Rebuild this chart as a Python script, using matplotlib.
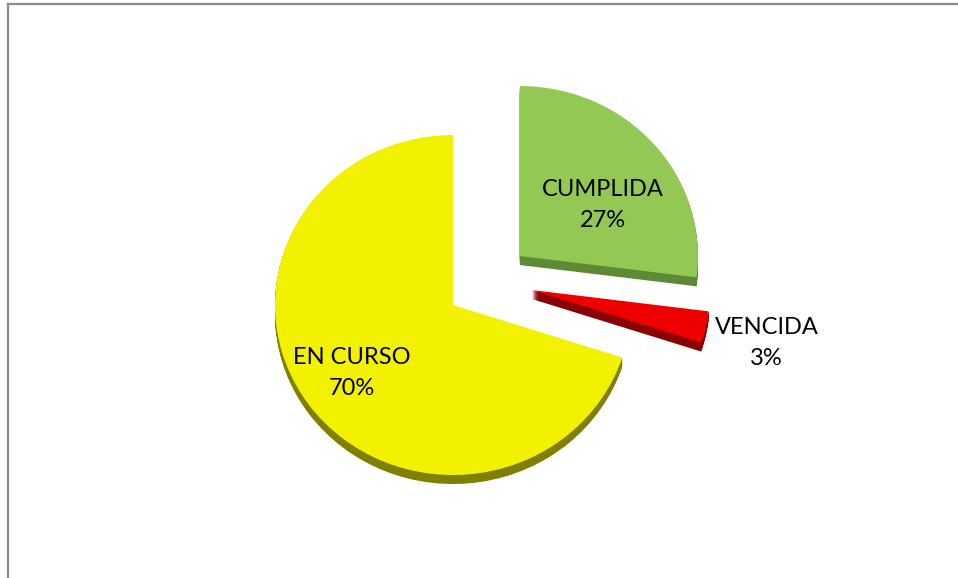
import numpy as np
import matplotlib.pyplot as plt
from matplotlib.patches import Wedge
from matplotlib.lines import Line2D

labels = ["CUMPLIDA", "VENCIDA", "EN CURSO"]
values = [27, 3, 70]

top_colors = ["#92C853", "#EE0000", "#F2F200"]
side_colors = ["#5F8A35", "#8B0000", "#7F7F00"]
# offset of each slice's vertex (pie radius units) and label placement
offsets = [(0.376, 0.288), (0.444, 0.088), (0.0, 0.0)]
label_dist = [0.56, 1.33, 0.68]
label_shift = [(0.045, -0.07), (0.02, -0.02), (-0.02, 0.0)]

fig = plt.figure(figsize=(9.58, 5.78), dpi=100)
ax = fig.add_axes([0, 0, 1, 1])

# pie radius 178 px wide, 170 px tall, centre at (453, 305) px
rx, ry = 178.0, 170.0
cx, cy = 453.0, 578.0 - 305.0
ax.set_xlim(-cx / rx, (958 - cx) / rx)
ax.set_ylim(-cy / ry, (578 - cy) / ry)
ax.set_aspect("auto")
ax.axis("off")

thick = 9.0 / ry
total = float(sum(values))
start = 90.0
angles = []
for v in values:
    end = start - 360.0 * v / total
    angles.append((end, start))
    start = end

draw_order = [2, 0, 1]
for i in draw_order:
    a1, a2 = angles[i]
    ox, oy = offsets[i]
    for k in np.linspace(thick, 0, 12)[:-1]:
        ax.add_patch(Wedge((ox, oy - k), 1.0, a1, a2,
                           facecolor=side_colors[i], edgecolor="none"))
    ax.add_patch(Wedge((ox, oy), 1.0, a1, a2,
                       facecolor=top_colors[i], edgecolor="none"))

for i in range(len(values)):
    a1, a2 = angles[i]
    mid = np.deg2rad((a1 + a2) / 2)
    ox, oy = offsets[i]
    x = ox + label_dist[i] * np.cos(mid) + label_shift[i][0]
    y = oy + label_dist[i] * np.sin(mid) + label_shift[i][1]
    ax.text(x, y, f"{labels[i]}\n{values[i]}%", ha="center", va="center",
            fontsize=17, family="Lato", color="black", linespacing=1.6)

# chart frame (only top and left visible)
fig.add_artist(Line2D([8 / 958, 1], [1 - 4 / 578, 1 - 4 / 578],
                      color="#8C8C8C", lw=1.6, transform=fig.transFigure))
fig.add_artist(Line2D([8 / 958, 8 / 958], [0, 1 - 4 / 578],
                      color="#8C8C8C", lw=1.6, transform=fig.transFigure))

plt.savefig("out.png", dpi=100)
